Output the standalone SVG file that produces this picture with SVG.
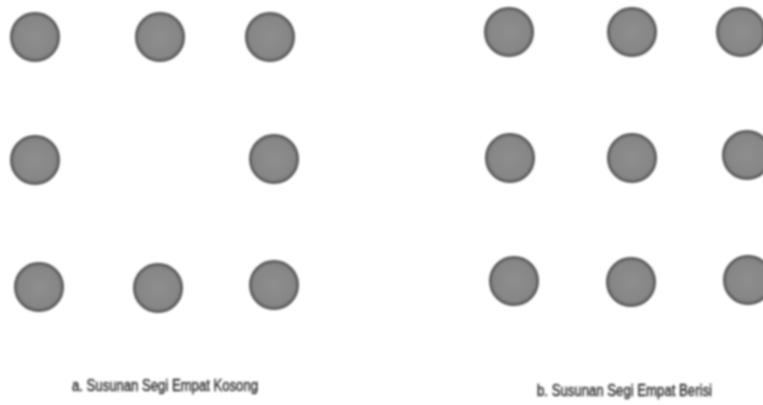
<svg xmlns="http://www.w3.org/2000/svg" width="763" height="405" viewBox="0 0 763 405">
<defs>
<filter id="soft" x="-20%" y="-20%" width="140%" height="140%"><feGaussianBlur stdDeviation="0.9"/></filter>
<radialGradient id="g" cx="50%" cy="50%" r="50%">
<stop offset="0" stop-color="#8e8e8e"/>
<stop offset="0.85" stop-color="#868686"/>
<stop offset="1" stop-color="#666666"/>
</radialGradient>
</defs>
<style>
.c{fill:url(#g);stroke:#555555;stroke-width:2;filter:url(#soft)}
.t{font-family:"Liberation Sans",Arial,sans-serif;font-size:16px;fill:#2a2a2a;stroke:#2a2a2a;stroke-width:0.4;filter:url(#soft)}
</style>
<rect width="763" height="405" fill="#ffffff"/>
<g id="a-grid">
<g id="a1"><circle class="c" cx="35" cy="37" r="24"/></g>
<g id="a2"><circle class="c" cx="160" cy="37" r="24"/></g>
<g id="a3"><circle class="c" cx="270" cy="37" r="24"/></g>
<g id="a4"><circle class="c" cx="35" cy="160" r="24"/></g>
<g id="a6"><circle class="c" cx="274" cy="159" r="24"/></g>
<g id="a7"><circle class="c" cx="39" cy="287" r="24"/></g>
<g id="a8"><circle class="c" cx="158" cy="288" r="24"/></g>
<g id="a9"><circle class="c" cx="274" cy="285" r="24"/></g>
</g>
<g id="b-grid">
<g id="b1"><circle class="c" cx="509" cy="32" r="24"/></g>
<g id="b2"><circle class="c" cx="632" cy="32" r="24"/></g>
<g id="b3"><circle class="c" cx="741" cy="32" r="24"/></g>
<g id="b4"><circle class="c" cx="510" cy="158" r="24"/></g>
<g id="b5"><circle class="c" cx="632" cy="158" r="24"/></g>
<g id="b6"><circle class="c" cx="747" cy="155" r="24"/></g>
<g id="b7"><circle class="c" cx="514" cy="281" r="24"/></g>
<g id="b8"><circle class="c" cx="631" cy="282" r="24"/></g>
<g id="b9"><circle class="c" cx="748" cy="280" r="24"/></g>
</g>
<g id="labels">
<text class="t" x="72" y="391" textLength="186" lengthAdjust="spacingAndGlyphs">a. Susunan Segi Empat Kosong</text>
<text class="t" x="537" y="396" textLength="175" lengthAdjust="spacingAndGlyphs">b. Susunan Segi Empat Berisi</text>
</g>
</svg>
